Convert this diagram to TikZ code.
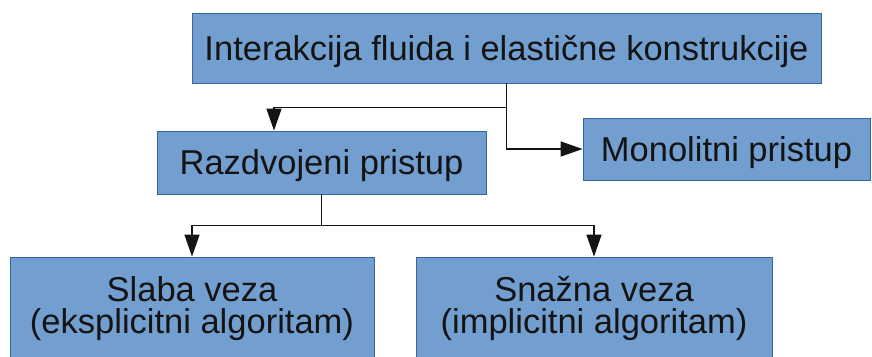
\documentclass[tikz,border=0pt]{standalone}
\usepackage{fontspec}
\setmainfont{Liberation Sans}
\usepackage{tikz}
\usetikzlibrary{arrows.meta, positioning, calc}
\definecolor{boxfill}{RGB}{114,159,207}
\definecolor{boxline}{RGB}{52,101,164}
\definecolor{mydark}{RGB}{20,20,20}
\tikzset{
  block/.style={rectangle, draw=boxline, fill=boxfill, align=center,
    font=\fontsize{34.5}{31}\selectfont, text=mydark, line width=0.8pt,
    inner sep=0pt, text height=24pt, text depth=0pt},
  twoblock/.style={rectangle, draw=boxline, fill=boxfill, align=center,
    font=\fontsize{34.5}{32}\selectfont, text=mydark, line width=0.8pt,
    inner sep=0pt},
  arrow/.style={-{Triangle[length=22pt, width=15pt]}, line width=1.4pt, color=mydark},
  line/.style={line width=1.4pt, color=mydark}
}
\begin{document}
\begin{tikzpicture}[x=1pt, y=-1pt]
  \useasboundingbox (0,0) rectangle (872,356);
  % top level
  \node[block, minimum width=629pt, minimum height=70pt] (fsi) at (506.5,48)
    {Interakcija fluida i elastične konstrukcije};
  \node[block, minimum width=329pt, minimum height=63pt] (razd) at (321.5,162.5)
    {Razdvojeni pristup};
  \node[block, minimum width=287pt, minimum height=62pt] (mono) at (726.5,149)
    {Monolitni pristup};
  % coupling variants
  \node[twoblock, minimum width=364pt, minimum height=103pt] (slaba) at (192,308.5)
    {Slaba veza\\(eksplicitni algoritam)};
  \node[twoblock, minimum width=356pt, minimum height=103pt] (snazna) at (594,308.5)
    {Snažna veza\\(implicitni algoritam)};
  % connectors
  \draw[arrow] (fsi.south) -- ++(0,24) -| ([xshift=-47.5pt]razd.north);
  \draw[arrow] (fsi.south) |- (mono.west);
  \draw[arrow] (razd.south) -- ++(0,31) -| (slaba.north);
  \draw[arrow] (razd.south) -- ++(0,31) -| (snazna.north);
\end{tikzpicture}
\end{document}
